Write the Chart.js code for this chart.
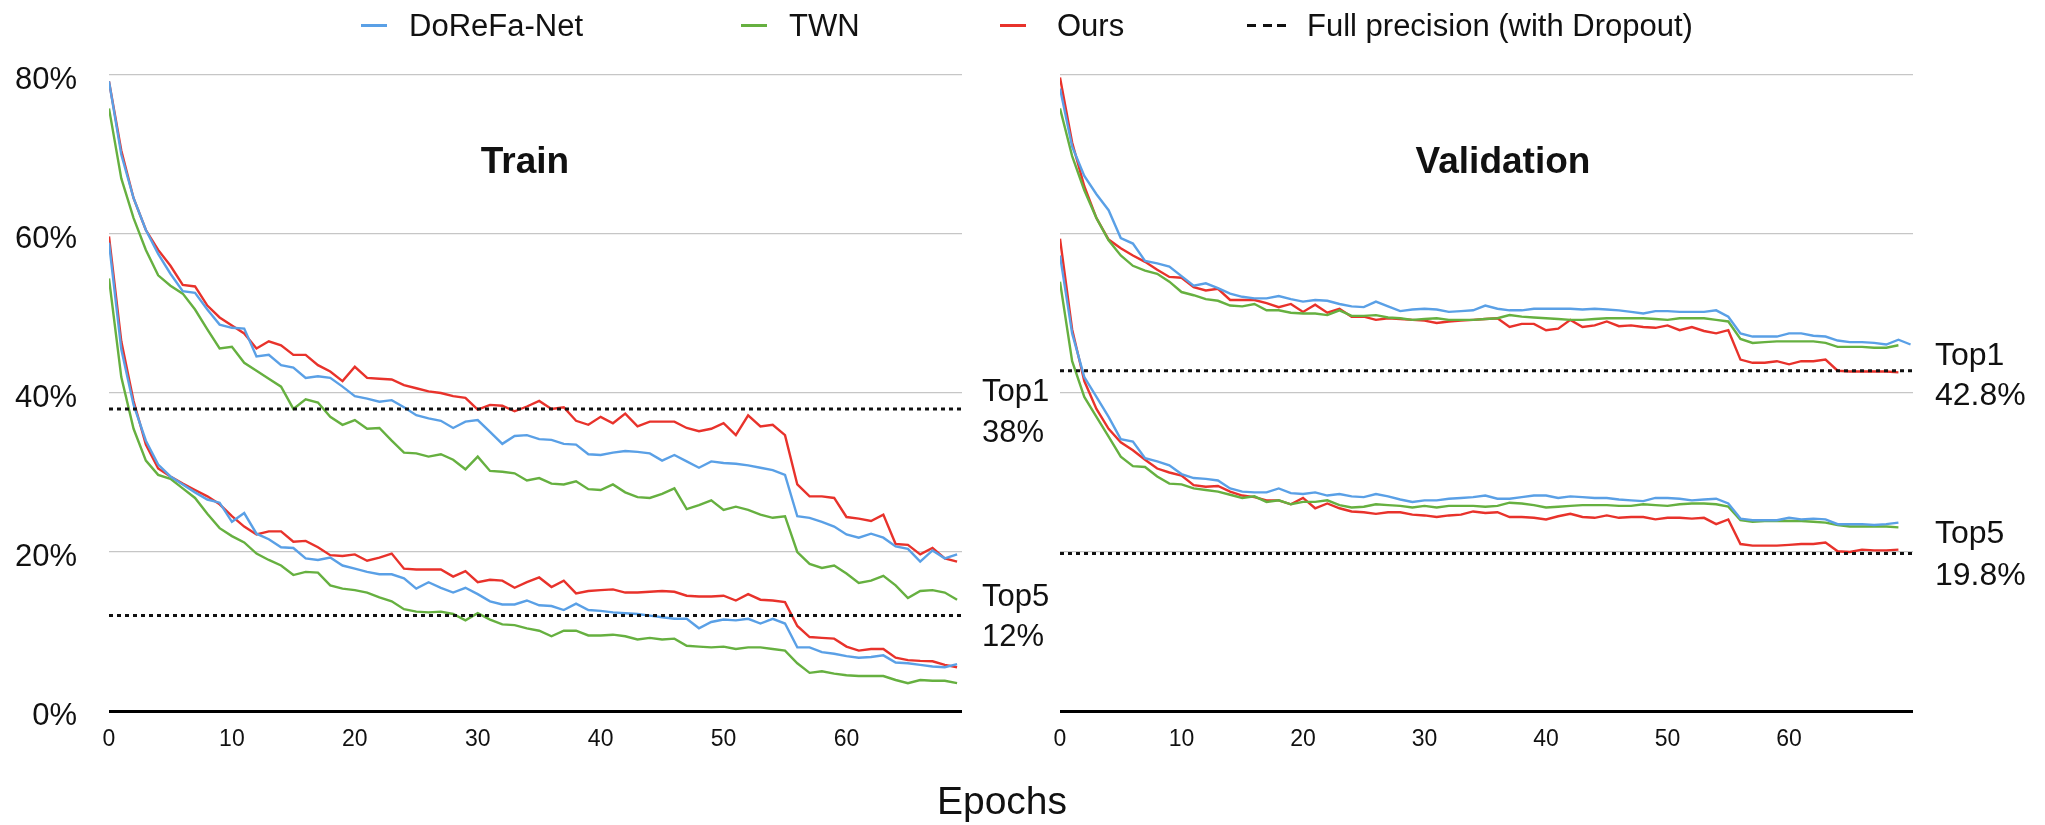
<!DOCTYPE html>
<html>
<head>
<meta charset="utf-8">
<script src="https://cdn.jsdelivr.net/npm/chart.js@4.4.1/dist/chart.umd.min.js"></script>
<style>
  html, body { margin: 0; padding: 0; background: #fff; }
  #page { position: relative; width: 2045px; height: 825px; overflow: hidden;
          font-family: 'Liberation Sans', Arial, Helvetica, sans-serif; color: #111; }
  canvas { position: absolute; top: 0; }
  .txt { position: absolute; white-space: nowrap; line-height: 1; }
  .mid { transform: translate(-50%, -50%); }
  .left { transform: translateY(-50%); }
</style>
</head>
<body>
<div id="page">
  <canvas id="train" width="980" height="780" style="left:0"></canvas>
  <canvas id="valid" width="1045" height="780" style="left:1000px"></canvas>
</div>
<script>
// epochs are the x positions, one value per epoch
const methods = ['DoReFa-Net', 'TWN', 'Ours']
const colors = ['#5aa0e6', '#66b040', '#e8322b']
const fpLabel = 'Full precision (with Dropout)'

const trainTop1Dorefa = [79.2, 70, 64.5, 60.5, 57.5, 55, 52.8, 52.6, 50.5, 48.6,
  48.2, 48.1, 44.6, 44.8, 43.5, 43.2, 41.9, 42.1, 41.9, 40.8,
  39.6, 39.3, 38.9, 39.1, 38.2, 37.2, 36.8, 36.5, 35.6, 36.4,
  36.6, 35.1, 33.6, 34.6, 34.7, 34.2, 34.1, 33.6, 33.5, 32.3,
  32.2, 32.5, 32.7, 32.6, 32.4, 31.5, 32.2, 31.4, 30.6, 31.4,
  31.2, 31.1, 30.9, 30.6, 30.3, 29.7, 24.5, 24.3, 23.8, 23.2,
  22.2, 21.8, 22.3, 21.8, 20.7, 20.4, 18.8, 20.2, 19.2, 19.7]
const trainTop1Twn = [75.8, 67, 62, 58, 54.8, 53.5, 52.5, 50.5, 48, 45.6,
  45.8, 43.8, 42.8, 41.8, 40.8, 38, 39.2, 38.8, 37, 36,
  36.6, 35.5, 35.6, 34, 32.5, 32.4, 32, 32.3, 31.6, 30.4,
  32, 30.2, 30.1, 29.9, 29, 29.3, 28.6, 28.5, 28.9, 27.9,
  27.8, 28.5, 27.5, 26.9, 26.8, 27.3, 28, 25.4, 25.9, 26.5,
  25.3, 25.7, 25.3, 24.7, 24.3, 24.5, 20, 18.5, 18, 18.3,
  17.3, 16.1, 16.4, 17, 15.8, 14.2, 15.1, 15.2, 14.9, 14]
const trainTop1Ours = [79.2, 70.5, 64.5, 60.5, 58, 56, 53.6, 53.4, 51, 49.5,
  48.5, 47.5, 45.6, 46.5, 46, 44.8, 44.8, 43.5, 42.7, 41.5,
  43.3, 41.9, 41.8, 41.7, 41, 40.6, 40.2, 40, 39.6, 39.4,
  37.9, 38.5, 38.4, 37.7, 38.3, 39, 38, 38.2, 36.5, 36,
  37, 36.2, 37.4, 35.8, 36.4, 36.4, 36.4, 35.6, 35.2, 35.5,
  36.2, 34.7, 37.2, 35.8, 36, 34.7, 28.5, 27, 27, 26.8,
  24.4, 24.2, 23.9, 24.7, 21, 20.9, 19.7, 20.5, 19.2, 18.8]

const trainTop5Dorefa = [58.9, 45.5, 38.5, 34, 31, 29.5, 28.5, 27.5, 26.6, 26.2,
  23.8, 24.9, 22.3, 21.6, 20.6, 20.5, 19.2, 19, 19.3, 18.3,
  17.9, 17.5, 17.2, 17.2, 16.7, 15.4, 16.2, 15.5, 14.9, 15.5,
  14.7, 13.8, 13.4, 13.4, 13.9, 13.3, 13.2, 12.7, 13.5, 12.7,
  12.6, 12.4, 12.3, 12.2, 12, 11.8, 11.6, 11.6, 10.4, 11.2,
  11.5, 11.4, 11.6, 11, 11.6, 11, 8, 8, 7.4, 7.2,
  6.9, 6.7, 6.8, 7, 6.1, 6, 5.8, 5.6, 5.5, 5.9]
const trainTop5Twn = [54.4, 42, 35.5, 31.5, 29.7, 29.2, 28, 26.8, 24.8, 23,
  22, 21.2, 19.8, 19, 18.3, 17.1, 17.5, 17.4, 15.8, 15.4,
  15.2, 14.9, 14.3, 13.8, 12.8, 12.5, 12.4, 12.5, 12.2, 11.4,
  12.3, 11.5, 10.9, 10.8, 10.4, 10.1, 9.4, 10.1, 10.1, 9.5,
  9.5, 9.6, 9.4, 9, 9.2, 9, 9.1, 8.2, 8.1, 8,
  8.1, 7.8, 8, 8, 7.8, 7.6, 6, 4.8, 5, 4.7,
  4.5, 4.4, 4.4, 4.4, 3.9, 3.5, 3.9, 3.8, 3.8, 3.5]
const trainTop5Ours = [59.7, 46.5, 39, 33.5, 30.5, 29.5, 28.6, 27.8, 27, 26,
  24.5, 23.2, 22.2, 22.6, 22.6, 21.3, 21.4, 20.6, 19.6, 19.5,
  19.7, 18.9, 19.3, 19.8, 17.9, 17.8, 17.8, 17.8, 16.9, 17.6,
  16.2, 16.5, 16.4, 15.5, 16.2, 16.8, 15.6, 16.4, 14.8, 15.1,
  15.2, 15.3, 14.9, 14.9, 15, 15.1, 15, 14.5, 14.4, 14.4,
  14.5, 13.9, 14.7, 14, 13.9, 13.7, 10.7, 9.3, 9.2, 9.1,
  8.1, 7.6, 7.8, 7.8, 6.7, 6.4, 6.3, 6.25, 5.8, 5.5]

const valTop1Dorefa = [78.3, 71, 67.3, 65, 63, 59.5, 58.8, 56.6, 56.3, 55.9,
  54.7, 53.5, 53.8, 53.2, 52.5, 52.1, 51.9, 51.9, 52.2, 51.8,
  51.5, 51.7, 51.6, 51.2, 50.9, 50.8, 51.5, 50.9, 50.3, 50.5,
  50.6, 50.5, 50.2, 50.3, 50.4, 51, 50.6, 50.4, 50.4, 50.6,
  50.6, 50.6, 50.6, 50.5, 50.6, 50.5, 50.4, 50.2, 50, 50.3,
  50.3, 50.2, 50.2, 50.2, 50.4, 49.6, 47.5, 47.1, 47.1, 47.1,
  47.5, 47.5, 47.2, 47.1, 46.6, 46.4, 46.4, 46.3, 46.1, 46.7,
  46.1]
const valTop1Twn = [75.8, 69.8, 65.5, 62, 59.2, 57.3, 56, 55.4, 55, 54,
  52.7, 52.3, 51.8, 51.6, 51, 50.9, 51.2, 50.4, 50.4, 50.1,
  50, 50, 49.8, 50.4, 49.7, 49.7, 49.8, 49.5, 49.4, 49.2,
  49.3, 49.4, 49.2, 49.2, 49.2, 49.3, 49.4, 49.8, 49.6, 49.5,
  49.4, 49.3, 49.2, 49.2, 49.3, 49.4, 49.4, 49.4, 49.4, 49.3,
  49.2, 49.4, 49.4, 49.4, 49.2, 49, 46.8, 46.3, 46.4, 46.5,
  46.5, 46.5, 46.5, 46.3, 45.8, 45.8, 45.8, 45.7, 45.7, 46]
const valTop1Ours = [79.7, 71.5, 66, 62, 59.3, 58.2, 57.3, 56.5, 55.5, 54.6,
  54.5, 53.3, 52.9, 53.1, 51.7, 51.7, 51.7, 51.3, 50.8, 51.2,
  50.2, 51.1, 50.1, 50.6, 49.6, 49.6, 49.2, 49.4, 49.3, 49.2,
  49.1, 48.8, 49, 49.1, 49.2, 49.3, 49.4, 48.3, 48.7, 48.7,
  47.9, 48.1, 49.2, 48.3, 48.5, 49, 48.4, 48.5, 48.3, 48.2,
  48.5, 47.9, 48.3, 47.8, 47.5, 47.9, 44.2, 43.8, 43.8, 44,
  43.6, 44, 44, 44.2, 42.8, 42.7, 42.7, 42.7, 42.7, 42.6]

const valTop5Dorefa = [57.3, 47.5, 42, 39.5, 37, 34.2, 33.9, 31.8, 31.4, 30.9,
  29.8, 29.3, 29.2, 29, 28, 27.6, 27.5, 27.5, 28, 27.4,
  27.3, 27.5, 27.1, 27.3, 27, 26.9, 27.3, 27, 26.6, 26.3,
  26.5, 26.5, 26.7, 26.8, 26.9, 27.1, 26.7, 26.7, 26.9, 27.1,
  27.1, 26.8, 27, 26.9, 26.8, 26.8, 26.6, 26.5, 26.4, 26.8,
  26.8, 26.7, 26.5, 26.6, 26.7, 26.1, 24.2, 24, 24, 24,
  24.3, 24.1, 24.2, 24.1, 23.5, 23.5, 23.5, 23.4, 23.5, 23.7]
const valTop5Twn = [54, 44, 39.5, 37, 34.5, 32, 30.8, 30.7, 29.5, 28.6,
  28.5, 28, 27.8, 27.6, 27.2, 26.8, 27, 26.3, 26.5, 26,
  26.3, 26.3, 26.5, 25.9, 25.6, 25.7, 26, 25.9, 25.8, 25.6,
  25.8, 25.6, 25.8, 25.8, 25.8, 25.7, 25.8, 26.2, 26.1, 25.9,
  25.6, 25.7, 25.8, 25.9, 25.9, 25.9, 25.8, 25.8, 26, 25.9,
  25.8, 26, 26.1, 26.1, 26, 25.7, 24, 23.8, 23.9, 23.9,
  23.9, 23.9, 23.8, 23.7, 23.4, 23.2, 23.2, 23.2, 23.2, 23.1]
const valTop5Ours = [59.4, 48, 41.5, 38, 35.5, 33.8, 32.8, 31.6, 30.5, 30,
  29.6, 28.4, 28.2, 28.3, 27.6, 27.1, 26.9, 26.5, 26.5, 26,
  26.8, 25.5, 26.1, 25.5, 25.1, 25, 24.8, 25, 25, 24.7,
  24.6, 24.4, 24.6, 24.7, 25.1, 24.9, 25, 24.4, 24.4, 24.3,
  24.1, 24.5, 24.8, 24.4, 24.3, 24.6, 24.3, 24.4, 24.4, 24.1,
  24.3, 24.3, 24.2, 24.3, 23.5, 24.1, 21, 20.8, 20.8, 20.8,
  20.9, 21, 21, 21.2, 20.1, 20, 20.3, 20.2, 20.2, 20.3]

// full precision reference: [top1, top5]
const fpTrain = [38, 12]
const fpValid = [42.8, 19.8]

const xTicks = [0, 10, 20, 30, 40, 50, 60]
const yTicks = [0, 20, 40, 60, 80]
const FONT = "'Liberation Sans', Arial, Helvetica, sans-serif"

function series(values, color) {
  return {
    data: values.map((v, i) => ({ x: i, y: v })),
    borderColor: color,
    borderWidth: 2.4,
    pointRadius: 0,
    tension: 0,
    fill: false
  }
}

function fpLine(value, xMax) {
  return {
    data: [{ x: 0, y: value }, { x: xMax, y: value }],
    borderColor: '#111',
    borderWidth: 3,
    borderDash: [4, 4],
    pointRadius: 0
  }
}

function makeChart(id, top1, top5, fp, xMax, pad, showY) {
  const datasets = []
  fp.forEach(v => datasets.push(fpLine(v, xMax)))
  top5.forEach((vals, i) => datasets.push(series(vals, colors[i])))
  top1.forEach((vals, i) => datasets.push(series(vals, colors[i])))

  return new Chart(document.getElementById(id).getContext('2d'), {
    type: 'line',
    data: { datasets },
    options: {
      responsive: false,
      animation: false,
      events: [],
      layout: { padding: pad },
      plugins: { legend: { display: false }, tooltip: { enabled: false } },
      scales: {
        x: {
          type: 'linear',
          min: 0,
          max: xMax,
          border: { display: false },
          grid: { display: false, drawTicks: false },
          afterBuildTicks: s => { s.ticks = xTicks.map(v => ({ value: v })) },
          ticks: {
            maxRotation: 0,
            padding: 15,
            color: '#111',
            font: { family: FONT, size: 23 }
          },
          afterFit: s => { s.height = 69 }
        },
        y: {
          min: 0,
          max: 80,
          border: { display: false },
          grid: {
            drawTicks: false,
            color: c => c.tick.value === 0 ? '#000' : '#c6c6c6',
            lineWidth: c => c.tick.value === 0 ? 3 : 1.3
          },
          afterBuildTicks: s => { s.ticks = yTicks.map(v => ({ value: v })) },
          ticks: {
            display: showY,
            padding: 32,
            labelOffset: 5,
            color: '#111',
            font: { family: FONT, size: 31 },
            callback: v => v + '%'
          },
          afterFit: s => { s.width = showY ? 109 : 0 }
        }
      }
    }
  })
}

makeChart('train',
  [trainTop1Dorefa, trainTop1Twn, trainTop1Ours],
  [trainTop5Dorefa, trainTop5Twn, trainTop5Ours],
  fpTrain, 69.4, { top: 75, left: 0, right: 18, bottom: 0 }, true)

makeChart('valid',
  [valTop1Dorefa, valTop1Twn, valTop1Ours],
  [valTop5Dorefa, valTop5Twn, valTop5Ours],
  fpValid, 70.2, { top: 75, left: 60, right: 132, bottom: 0 }, false)

// text laid over the canvases
const page = document.getElementById('page')
function addText(str, x, y, size, cls, extra) {
  const d = document.createElement('div')
  d.className = 'txt ' + cls
  d.textContent = str
  d.style.left = x + 'px'
  d.style.top = y + 'px'
  d.style.fontSize = size + 'px'
  if (extra) Object.assign(d.style, extra)
  page.appendChild(d)
}
function addBar(x, y, w, h, color) {
  const d = document.createElement('div')
  Object.assign(d.style, { position: 'absolute', left: x + 'px', top: y + 'px',
    width: w + 'px', height: h + 'px', background: color })
  page.appendChild(d)
}

// legend
const legendY = 25
const legendMarkX = [361, 741, 1000]
const legendTextX = [409, 789, 1057]
methods.forEach((m, i) => {
  addBar(legendMarkX[i], legendY - 1.5, 26, 3, colors[i])
  addText(m, legendTextX[i], legendY, 31, 'left')
})
;[1247, 1263, 1277].forEach(x => addBar(x, legendY - 1.5, 9, 3, '#111'))
addText(fpLabel, 1307, legendY, 31, 'left')

// panel titles
addText('Train', 525, 160, 37, 'mid', { fontWeight: 'bold' })
addText('Validation', 1503, 160, 37, 'mid', { fontWeight: 'bold' })

// full precision labels
addText('Top' + '1', 982, 390, 31, 'left')
addText(fpTrain[0] + '%', 982, 431, 31, 'left')
addText('Top' + '5', 982, 595, 31, 'left')
addText(fpTrain[1] + '%', 982, 635, 31, 'left')
addText('Top' + '1', 1935, 354, 32, 'left')
addText(fpValid[0] + '%', 1935, 394, 32, 'left')
addText('Top' + '5', 1935, 532, 32, 'left')
addText(fpValid[1] + '%', 1935, 574, 32, 'left')

addText('Epochs', 1002, 800, 39, 'mid')
</script>
</body>
</html>
